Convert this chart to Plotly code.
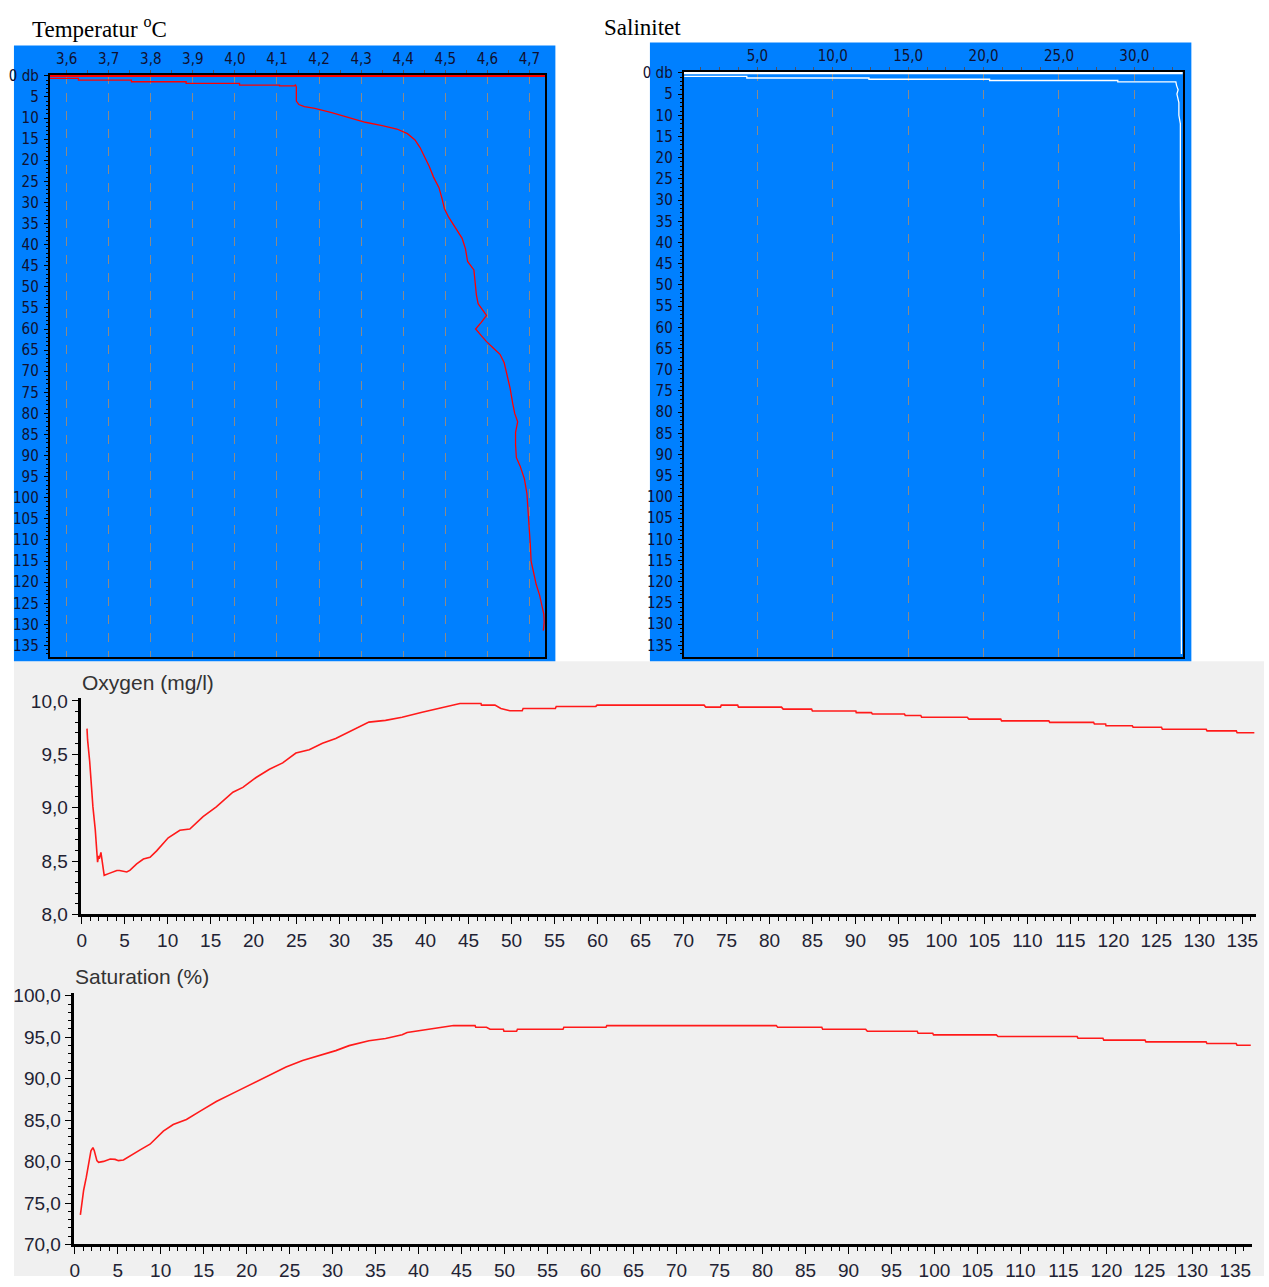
import plotly.graph_objects as go

# ---------------- data ----------------
# Temperature profile (deg C vs pressure db)
temp_surface = [4.738, 3.56]
temp_surface_depth = [0.0, 0.0]
temp_values = [3.56, 3.628, 3.628, 3.754, 3.754, 3.884, 3.884, 4.011, 4.011, 4.106,
               4.106, 4.142, 4.144, 4.146, 4.146, 4.152, 4.165, 4.19, 4.23, 4.27,
               4.31, 4.35, 4.385, 4.41, 4.428, 4.44, 4.452, 4.462, 4.472, 4.485,
               4.492, 4.498, 4.508, 4.525, 4.54, 4.548, 4.553, 4.568, 4.57, 4.574,
               4.578, 4.588, 4.598, 4.585, 4.572, 4.585, 4.598, 4.614, 4.63, 4.64,
               4.646, 4.654, 4.66, 4.665, 4.672, 4.667, 4.667, 4.669, 4.678, 4.688,
               4.694, 4.697, 4.699, 4.702, 4.704, 4.71, 4.716, 4.724, 4.73, 4.734,
               4.735, 4.733]
temp_depth = [0.6, 0.6, 1.0, 1.0, 1.4, 1.4, 1.8, 1.8, 2.2, 2.2,
              2.4, 2.4, 2.1, 2.6, 6.0, 6.8, 7.3, 7.7, 8.7, 9.8,
              11.0, 11.8, 12.6, 13.7, 15.2, 17.0, 19.5, 21.5, 24.0, 26.5,
              29.0, 31.5, 33.5, 36.0, 38.5, 41.0, 44.0, 46.0, 48.0, 52.0,
              54.0, 55.5, 56.8, 58.5, 60.0, 61.5, 63.0, 64.5, 66.0, 68.0,
              70.5, 74.0, 77.5, 80.0, 82.0, 84.5, 87.5, 90.5, 92.5, 95.5,
              99.0, 103.0, 107.0, 111.0, 115.0, 118.0, 120.5, 123.0, 125.5, 127.5,
              129.5, 131.5]

# Salinity profile
sal_surface = [33.2, 0.12]
sal_surface_depth = [0.0, 0.0]
sal_values = [0.15, 4.3, 4.3, 12.4, 12.4, 20.4, 20.4, 28.9, 28.9, 32.75,
              32.8, 32.9, 32.82, 32.95, 32.95, 33.05, 33.05, 33.1, 33.06, 33.1,
              33.1, 33.12]
sal_depth = [0.8, 0.8, 1.2, 1.2, 1.5, 1.5, 1.8, 1.8, 2.1, 2.1,
             3.0, 4.0, 5.0, 7.0, 10.0, 12.0, 30.0, 50.0, 52.0, 55.0,
             120.0, 137.0]

# Oxygen (mg/l) vs depth (m)
oxy_depth = [0.62, 0.69, 0.93, 1.08, 1.31, 1.58, 1.77, 1.85, 1.97, 2.05,
             2.24, 2.47, 2.62, 3.13, 4.09, 4.4, 5.25, 5.6, 6.4, 7.18,
             7.95, 8.72, 10.07, 11.42, 12.58, 14.12, 15.66, 17.59, 18.75, 20.29,
             21.84, 23.38, 24.92, 26.47, 28.01, 29.55, 31.1, 33.41, 35.34, 37.27,
             39.6, 41.9, 44.0, 46.45, 46.5, 48.07, 48.76, 49.8, 51.24, 51.35,
             55.1, 55.2, 59.8, 59.95, 72.4, 72.6, 74.3, 74.4, 76.3, 76.4,
             81.4, 81.6, 84.9, 85.0, 90.05, 90.1, 91.86, 91.97, 95.7, 95.8,
             97.6, 97.7, 103.0, 103.2, 106.9, 107.0, 112.5, 112.6, 117.7, 117.8,
             119.1, 119.15, 122.2, 122.3, 125.6, 125.7, 130.8, 130.9, 134.3, 134.4,
             136.4]
oxy_values = [9.740, 9.634, 9.435, 9.224, 9.007, 8.794, 8.595, 8.489, 8.549, 8.52,
              8.581, 8.443, 8.366, 8.382, 8.412, 8.412, 8.397, 8.412, 8.473, 8.519,
              8.535, 8.595, 8.718, 8.788, 8.800, 8.916, 9.007, 9.145, 9.190, 9.282,
              9.359, 9.419, 9.511, 9.542, 9.603, 9.648, 9.710, 9.801, 9.817, 9.847,
              9.893, 9.939, 9.975, 9.975, 9.960, 9.960, 9.929, 9.908, 9.908, 9.929,
              9.929, 9.948, 9.948, 9.960, 9.960, 9.941, 9.941, 9.960, 9.960, 9.941,
              9.941, 9.923, 9.923, 9.905, 9.905, 9.890, 9.890, 9.877, 9.877, 9.863,
              9.863, 9.847, 9.847, 9.829, 9.829, 9.813, 9.813, 9.799, 9.799, 9.783,
              9.783, 9.767, 9.767, 9.753, 9.753, 9.734, 9.734, 9.719, 9.719, 9.701,
              9.701]

# Saturation (%) vs depth (m)
sat_depth = [0.66, 0.85, 1.04, 1.35, 1.62, 1.89, 2.12, 2.28, 2.58, 2.78,
             3.36, 4.13, 4.70, 5.09, 5.67, 6.45, 7.61, 8.76, 10.31, 11.46,
             13.0, 14.55, 16.47, 18.79, 20.72, 22.65, 24.58, 26.51, 28.44, 30.37,
             31.92, 34.23, 36.16, 38.09, 38.67, 40.0, 41.56, 43.10, 44.07, 46.57,
             46.65, 47.9, 48.31, 49.86, 49.93, 51.4, 51.5, 56.8, 56.9, 61.8,
             61.9, 81.6, 81.77, 86.9, 87.0, 92.0, 92.2, 98.0, 98.1, 99.8,
             99.9, 107.2, 107.4, 116.6, 116.7, 119.6, 119.7, 124.5, 124.6, 131.6,
             131.7, 135.1, 135.2, 136.8]
sat_values = [73.57, 74.96, 76.54, 78.12, 79.71, 81.30, 81.69, 81.30, 80.11, 79.91,
              80.02, 80.31, 80.26, 80.11, 80.19, 80.70, 81.41, 82.09, 83.67, 84.47,
              85.07, 86.05, 87.24, 88.43, 89.42, 90.42, 91.40, 92.20, 92.79, 93.38,
              93.98, 94.58, 94.85, 95.30, 95.56, 95.76, 95.96, 96.20, 96.40, 96.40,
              96.20, 96.20, 95.96, 95.96, 95.72, 95.72, 95.96, 95.96, 96.20, 96.20,
              96.40, 96.40, 96.20, 96.20, 95.96, 95.96, 95.72, 95.72, 95.48, 95.48,
              95.28, 95.28, 95.08, 95.08, 94.88, 94.88, 94.64, 94.64, 94.44, 94.44,
              94.23, 94.23, 94.03, 94.03]

assert len(temp_values) == len(temp_depth)
assert len(sal_values) == len(sal_depth)
assert len(oxy_depth) == len(oxy_values)
assert len(sat_depth) == len(sat_values)

# ---------------- layout helpers ----------------
W, H = 1269, 1287
def px(x):
    return x / W
def py(y):
    return 1 - y / H

BLUE = "#0080ff"
GREY_BG = "#f0f0f0"
NARROW = "Liberation Sans Narrow, Arial Narrow, DejaVu Sans Condensed, sans-serif"
SANS = "Liberation Sans, Arial, sans-serif"
SERIF = "Liberation Serif, Times New Roman, serif"

fig = go.Figure()

# Temperature
fig.add_trace(go.Scatter(x=temp_surface, y=temp_surface_depth, mode="lines",
                         line=dict(color="#ff0000", width=2.5), xaxis="x", yaxis="y",
                         showlegend=False, hoverinfo="skip"))
fig.add_trace(go.Scatter(x=temp_values, y=temp_depth, mode="lines",
                         line=dict(color="#ff0000", width=1.3), xaxis="x", yaxis="y",
                         showlegend=False))
# Salinity
fig.add_trace(go.Scatter(x=sal_surface, y=sal_surface_depth, mode="lines",
                         line=dict(color="#ffffff", width=2.5), xaxis="x2", yaxis="y2",
                         showlegend=False, hoverinfo="skip"))
fig.add_trace(go.Scatter(x=sal_values, y=sal_depth, mode="lines",
                         line=dict(color="#ffffff", width=1.3), xaxis="x2", yaxis="y2",
                         showlegend=False))
# Oxygen
fig.add_trace(go.Scatter(x=oxy_depth, y=oxy_values, mode="lines",
                         line=dict(color="#ff1a1a", width=1.6), xaxis="x3", yaxis="y3",
                         showlegend=False))
# Saturation
fig.add_trace(go.Scatter(x=sat_depth, y=sat_values, mode="lines",
                         line=dict(color="#ff1a1a", width=1.6), xaxis="x4", yaxis="y4",
                         showlegend=False))

top_tickfont = dict(family=NARROW, size=15, color="#101030")
bottom_tickfont = dict(family=SANS, size=19, color="#222233")

profile_x_common = dict(
    side="top", showline=True, mirror=True, linecolor="black", linewidth=2,
    ticks="outside", ticklen=3, tickcolor="#505060", tickfont=top_tickfont,
    showgrid=True, gridcolor="#8a8a8a", griddash="dash", gridwidth=1,
    zeroline=False, tickformat=".1f", fixedrange=True,
)
profile_y_common = dict(
    showline=True, mirror=True, linecolor="black", linewidth=2,
    ticks="outside", ticklen=4, tickcolor="black", tickfont=top_tickfont,
    tickmode="linear", tick0=0, dtick=5, labelalias={"0": "0 db"},
    minor=dict(dtick=1, ticklen=2, ticks="outside", tickcolor="black", showgrid=False),
    showgrid=False, zeroline=False, fixedrange=True, ticklabelstandoff=2,
)

bottom_x_common = dict(
    showline=True, linecolor="black", linewidth=3, mirror=False,
    ticks="outside", ticklen=7, tickcolor="black", tickwidth=1,
    tickmode="linear", tick0=0, dtick=5, tickfont=bottom_tickfont,
    minor=dict(dtick=1, ticklen=4, ticks="outside", tickcolor="black", showgrid=False),
    showgrid=False, zeroline=False, fixedrange=True,
)
bottom_y_common = dict(
    showline=True, linecolor="black", linewidth=3, mirror=False,
    ticks="outside", ticklen=6, tickcolor="black", tickwidth=1,
    tickfont=bottom_tickfont, tickformat=".1f",
    showgrid=False, zeroline=False, fixedrange=True,
)

fig.update_layout(
    width=W, height=H, autosize=False,
    margin=dict(l=0, r=0, t=0, b=0, pad=0),
    paper_bgcolor="white", plot_bgcolor="rgba(0,0,0,0)",
    separators=", ",
    showlegend=False,
    xaxis=dict(domain=[px(46), px(544)], anchor="y", range=[3.56, 4.738],
               tickmode="linear", tick0=3.6, dtick=0.1,
               minor=dict(dtick=0.05, ticklen=3, ticks="outside", tickcolor="#505060", showgrid=False),
               **profile_x_common),
    yaxis=dict(domain=[py(659), py(68)], anchor="x", range=[137.8, -0.2],
               **profile_y_common),
    xaxis2=dict(domain=[px(683), px(1185)], anchor="y2", range=[0.12, 33.25],
                tickmode="linear", tick0=5, dtick=5,
                minor=dict(dtick=1.25, ticklen=3, ticks="outside", tickcolor="#505060", showgrid=False),
                **profile_x_common),
    yaxis2=dict(domain=[py(659), py(65)], anchor="x2", range=[137.8, -0.2],
                **profile_y_common),
    xaxis3=dict(domain=[px(77), px(1258)], anchor="y3", range=[-0.12, 136.6],
                **bottom_x_common),
    yaxis3=dict(domain=[py(920), py(700)], anchor="x3", range=[8.0, 10.03],
                tickmode="linear", tick0=8, dtick=0.5,
                minor=dict(dtick=0.1, ticklen=3, ticks="outside", tickcolor="black", showgrid=False),
                **bottom_y_common),
    xaxis4=dict(domain=[px(70), px(1254)], anchor="y4", range=[-0.12, 136.95],
                **bottom_x_common),
    yaxis4=dict(domain=[py(1255), py(1000)], anchor="x4", range=[70.0, 100.3],
                tickmode="linear", tick0=70, dtick=5,
                minor=dict(dtick=1, ticklen=3, ticks="outside", tickcolor="black", showgrid=False),
                **bottom_y_common),
    shapes=[
        dict(type="rect", xref="paper", yref="paper", x0=px(10), x1=px(1266), y0=0, y1=py(663),
             fillcolor=GREY_BG, line=dict(width=0), layer="below"),
        dict(type="rect", xref="paper", yref="paper", x0=px(10), x1=px(554), y0=py(663), y1=py(38),
             fillcolor=BLUE, line=dict(width=0), layer="below"),
        dict(type="rect", xref="paper", yref="paper", x0=px(649), x1=px(1193), y0=py(663), y1=py(35),
             fillcolor=BLUE, line=dict(width=0), layer="below"),
    ],
    annotations=[
        dict(text="Temperatur <sup>o</sup>C", xref="paper", yref="paper", x=px(26), y=py(20),
             xanchor="left", yanchor="middle", showarrow=False,
             font=dict(family=SERIF, size=23, color="black")),
        dict(text="Salinitet", xref="paper", yref="paper", x=px(601), y=py(20),
             xanchor="left", yanchor="middle", showarrow=False,
             font=dict(family=SERIF, size=23, color="black")),
        dict(text="Oxygen (mg/l)", xref="paper", yref="paper", x=px(76), y=py(685),
             xanchor="left", yanchor="middle", showarrow=False,
             font=dict(family=SANS, size=21, color="#333333")),
        dict(text="Saturation (%)", xref="paper", yref="paper", x=px(69), y=py(983),
             xanchor="left", yanchor="middle", showarrow=False,
             font=dict(family=SANS, size=21, color="#333333")),
    ],
)

fig.write_html("out.html",
               config={"displayModeBar": False},
               post_script="document.body.style.margin='0';document.body.style.overflow='hidden';")
